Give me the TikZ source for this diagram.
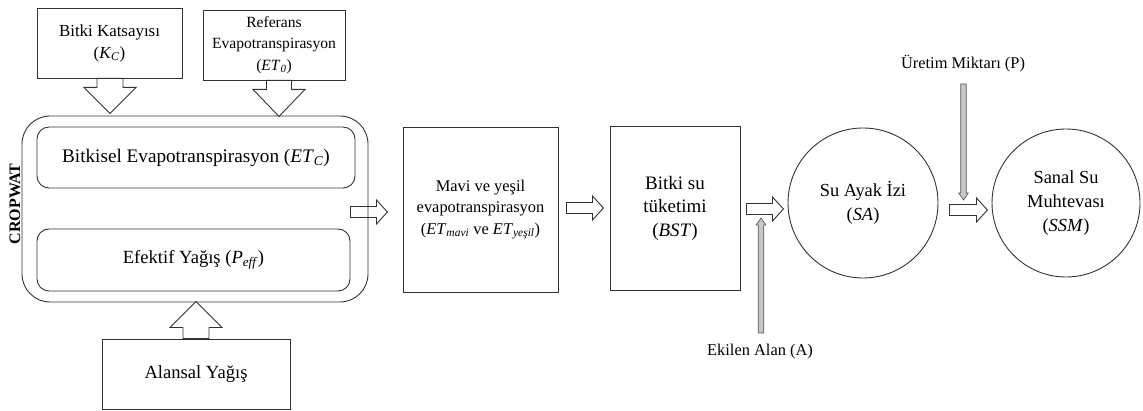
\documentclass[tikz,border=0pt]{standalone}
\usepackage{fontspec}
\setmainfont{Liberation Serif}
\usetikzlibrary{calc}
\newcommand\fs[2]{\fontsize{#1}{#2}\selectfont}
\newcommand\ital[2]{\textit{#1}\textsubscript{\textit{#2}}}
% block arrow: style, start, angle, length, shaft half, head half, head length
\newcommand\barr[7]{\begin{scope}[shift={#2}, rotate=#3]
\draw[#1] (0,-#5) -- ({#4-#7},-#5) -- ({#4-#7},-#6) -- (#4,0) -- ({#4-#7},#6) -- ({#4-#7},#5) -- (0,#5) -- cycle;
\end{scope}}
\begin{document}
\begin{tikzpicture}[x=1pt,y=-1pt,
  box/.style={draw=black!80, line width=0.9pt, align=center, inner sep=0pt},
  bk/.style={draw=black!80, line width=0.9pt},
  thinar/.style={draw=black!65, fill=black!22, line width=0.7pt},
  lbl/.style={inner sep=0pt, align=center}]
\useasboundingbox (0,0) rectangle (1143,411);
% input boxes
\node[box, minimum width=145, minimum height=70, font=\fs{16.9}{22}] (kc) at (109.5,43) {Bitki Katsayısı\\(\ital{K}{C})};
\node[box, minimum width=142, minimum height=70, font=\fs{15.6}{21.5}] (et0) at (274,45) {Referans\\Evapotranspirasyon\\(\ital{ET}{0})};
% CROPWAT block
\node[box, rounded corners=28pt, minimum width=346, minimum height=186] (crop) at (195,209) {};
\node[box, rounded corners=12pt, minimum width=318, minimum height=61, font=\fs{19.2}{23}] (etc) at (196,157.5) {Bitkisel Evapotranspirasyon (\ital{ET}{C})};
\node[box, rounded corners=12pt, minimum width=313, minimum height=62, font=\fs{18.6}{23}] (peff) at (193.5,260) {Efektif Yağış (\ital{P}{eff})};
\node[lbl, rotate=90, font=\fs{16}{19}\bfseries] (cw) at (15,204) {CROPWAT};
\node[box, minimum width=188, minimum height=70, font=\fs{18.6}{23}] (alan) at (196,374) {Alansal Yağış};
% chain
\node[box, minimum width=155, minimum height=165, font=\fs{16.4}{21.5}] (mavi) at (480.5,209.5) {Mavi ve yeşil\\evapotranspirasyon\\(\ital{ET}{mavi} ve \ital{ET}{yeşil})};
\node[box, minimum width=130, minimum height=164, font=\fs{19}{23.5}] (bst) at (675,208) {Bitki su\\tüketimi\\(\textit{BST})};
\node[box, circle, minimum size=150, font=\fs{18.4}{24.5}] (sa) at (863,203) {Su Ayak İzi\\(\textit{SA})};
\node[box, circle, minimum size=148, font=\fs{18.4}{24}] (ssm) at (1066,203) {Sanal Su\\Muhtevası\\(\textit{SSM})};
\node[lbl, font=\fs{16.4}{20}] (ekilen) at (760,352) {Ekilen Alan (A)};
\node[lbl, font=\fs{16.4}{20}] (uretim) at (963,64) {Üretim Miktarı (P)};
% block arrows
\barr{bk}{($(kc.south)+(0.5,0)$)}{-90}{35}{13}{26}{26}
\barr{bk}{($(et0.south)+(5,0)$)}{-90}{36}{12.5}{26}{27}
\barr{bk}{(alan.north)}{90}{37}{13}{26}{26}
\barr{bk}{($(crop.east)+(-18,3)$)}{0}{37}{5.5}{12}{11}
\barr{bk}{($(mavi.east)+(8,-1.5)$)}{0}{37}{5.5}{12}{11}
\barr{bk}{($(bst.east)+(6,1)$)}{0}{37}{5.5}{12}{11}
\barr{bk}{($(sa.east)+(11,7)$)}{0}{38}{5.5}{12}{11}
% thin arrows
\barr{thinar}{($(ekilen.center)+(1,-19)$)}{90}{115}{2.8}{4.8}{7}
\barr{thinar}{($(uretim.center)+(0.5,20)$)}{-90}{116}{2.8}{4.8}{7}
\end{tikzpicture}
\end{document}
